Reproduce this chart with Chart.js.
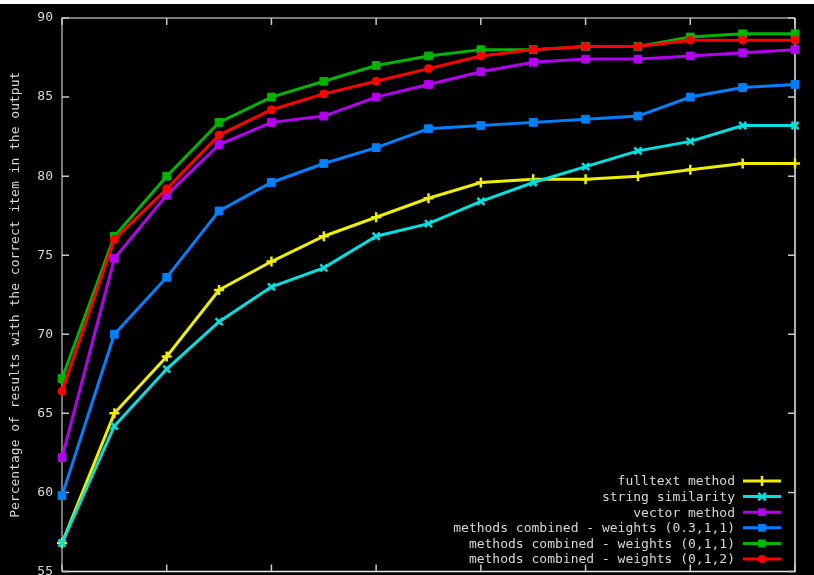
<!DOCTYPE html>
<html>
<head>
<meta charset="utf-8">
<script src="https://cdn.jsdelivr.net/npm/chart.js@4/dist/chart.umd.min.js"></script>
<style>
  html, body { margin: 0; padding: 0; background: #000; overflow: hidden; }
  /* a few px taller than the window: the bottom tick label gets cut like in the original */
  #wrap { width: 814px; height: 579px; }
</style>
</head>
<body>
<div id="wrap"><canvas id="myChart"></canvas></div>
<script>
// data
const categories = ['1', '2', '3', '4', '5', '6', '7', '8', '9', '10', '11', '12', '13', '14', '15'];
const yTicks = [55, 60, 65, 70, 75, 80, 85, 90];

const fulltext = [56.8, 65.0, 68.6, 72.8, 74.6, 76.2, 77.4, 78.6, 79.6, 79.8, 79.8, 80.0, 80.4, 80.8, 80.8];
const stringSim = [56.8, 64.2, 67.8, 70.8, 73.0, 74.2, 76.2, 77.0, 78.4, 79.6, 80.6, 81.6, 82.2, 83.2, 83.2];
const vectorMethod = [62.2, 74.8, 78.8, 82.0, 83.4, 83.8, 85.0, 85.8, 86.6, 87.2, 87.4, 87.4, 87.6, 87.8, 88.0];
const combined0311 = [59.8, 70.0, 73.6, 77.8, 79.6, 80.8, 81.8, 83.0, 83.2, 83.4, 83.6, 83.8, 85.0, 85.6, 85.8];
const combined011 = [67.2, 76.2, 80.0, 83.4, 85.0, 86.0, 87.0, 87.6, 88.0, 88.0, 88.2, 88.2, 88.8, 89.0, 89.0];
const combined012 = [66.4, 76.0, 79.2, 82.6, 84.2, 85.2, 86.0, 86.8, 87.6, 88.0, 88.2, 88.2, 88.6, 88.6, 88.6];

const seriesLabels = [
  'fulltext method',
  'string similarity',
  'vector method',
  'methods combined - weights (0.3,1,1)',
  'methods combined - weights (0,1,1)',
  'methods combined - weights (0,1,2)'
];

const FONT = 'DejaVu Sans Mono';
const textColor = '#d8d8d8';

function line(label, data, color, style, radius, order) {
  return {
    label: label,
    data: data,
    borderColor: color,
    backgroundColor: color,
    borderWidth: 3,
    pointStyle: style,
    pointRadius: radius,
    pointBorderWidth: style === 'cross' || style === 'crossRot' ? 2.5 : 1,
    pointHoverRadius: radius,
    tension: 0,
    clip: false,
    order: order
  };
}

// background + white band at the very top
const bgPlugin = {
  id: 'bg',
  beforeDraw(chart) {
    const ctx = chart.ctx;
    ctx.save();
    ctx.fillStyle = '#000';
    ctx.fillRect(0, 0, chart.width, chart.height);
    ctx.fillStyle = '#fff';
    ctx.fillRect(0, 0, chart.width, 4);
    ctx.restore();
  }
};

// gnuplot style frame with inward ticks
const framePlugin = {
  id: 'frame',
  beforeDatasetsDraw(chart) {
    const { ctx, chartArea: a, scales } = chart;
    ctx.save();
    ctx.lineWidth = 1.5;
    ctx.strokeStyle = '#a0a0a0';
    ctx.beginPath();
    ctx.moveTo(a.left, a.bottom); ctx.lineTo(a.left, a.top); ctx.lineTo(a.right, a.top);
    ctx.stroke();
    ctx.strokeStyle = '#e8e8e8';
    ctx.beginPath();
    ctx.moveTo(a.right, a.top); ctx.lineTo(a.right, a.bottom); ctx.lineTo(a.left, a.bottom);
    ctx.stroke();
    ctx.strokeStyle = '#c8c8c8';
    ctx.beginPath();
    yTicks.forEach(v => {
      const py = scales.y.getPixelForValue(v);
      ctx.moveTo(a.left, py); ctx.lineTo(a.left + 7, py);
      ctx.moveTo(a.right, py); ctx.lineTo(a.right - 7, py);
    });
    categories.forEach((c, i) => {
      if (i % 2) return;
      const px = scales.x.getPixelForValue(i);
      ctx.moveTo(px, a.top); ctx.lineTo(px, a.top + 7);
      ctx.moveTo(px, a.bottom); ctx.lineTo(px, a.bottom - 7);
    });
    ctx.stroke();
    ctx.restore();
  }
};

function drawMarker(ctx, style, x, y, r, color) {
  ctx.fillStyle = color;
  ctx.strokeStyle = color;
  ctx.beginPath();
  if (style === 'rect') {
    const s = r * Math.SQRT1_2;
    ctx.fillRect(x - s, y - s, 2 * s, 2 * s);
  } else if (style === 'circle') {
    ctx.arc(x, y, r, 0, Math.PI * 2);
    ctx.fill();
  } else if (style === 'cross') {
    ctx.lineWidth = 2.5;
    ctx.moveTo(x, y - r); ctx.lineTo(x, y + r);
    ctx.stroke();
  } else if (style === 'crossRot') {
    ctx.lineWidth = 2.5;
    const s = r * 0.75;
    ctx.moveTo(x - s, y - s); ctx.lineTo(x + s, y + s);
    ctx.moveTo(x - s, y + s); ctx.lineTo(x + s, y - s);
    ctx.stroke();
  }
}

// right-aligned key in the lower right corner
const keyPlugin = {
  id: 'key',
  afterDatasetsDraw(chart) {
    const ctx = chart.ctx;
    ctx.save();
    ctx.font = '13px "' + FONT + '"';
    ctx.textAlign = 'right';
    ctx.textBaseline = 'middle';
    seriesLabels.forEach((lab, i) => {
      const ds = chart.data.datasets[i];
      const y = 481 + i * 15.6;
      ctx.fillStyle = textColor;
      ctx.fillText(lab, 735, y + 1);
      ctx.strokeStyle = ds.borderColor;
      ctx.lineWidth = 3;
      ctx.beginPath();
      ctx.moveTo(743, y); ctx.lineTo(781, y);
      ctx.stroke();
      drawMarker(ctx, ds.pointStyle, 762, y, ds.pointRadius, ds.borderColor);
    });
    ctx.restore();
  }
};

const data = {
  labels: categories,
  datasets: [
    line(seriesLabels[0], fulltext, '#eeee00', 'cross', 5, 6),
    line(seriesLabels[1], stringSim, '#00e0e0', 'crossRot', 5, 5),
    line(seriesLabels[2], vectorMethod, '#b400f0', 'rect', 5.5, 4),
    line(seriesLabels[3], combined0311, '#0080ff', 'rect', 5.5, 3),
    line(seriesLabels[4], combined011, '#00b400', 'rect', 5.5, 2),
    line(seriesLabels[5], combined012, '#ff0000', 'circle', 4, 1)
  ]
};

const config = {
  type: 'line',
  data,
  options: {
    responsive: true,
    maintainAspectRatio: false,
    animation: false,
    layout: { padding: { top: 18, right: 19, bottom: 0, left: 0 } },
    plugins: {
      legend: { display: false },
      tooltip: { enabled: false }
    },
    scales: {
      x: {
        display: false,
        offset: false
      },
      y: {
        min: 55,
        max: 90,
        ticks: {
          stepSize: 5,
          color: textColor,
          padding: 9,
          font: { family: FONT, size: 13 }
        },
        grid: { display: false, drawTicks: false },
        border: { display: false },
        title: {
          display: true,
          text: 'Percentage of results with the correct item in the output',
          color: textColor,
          font: { family: FONT, size: 13 },
          padding: { top: 8, bottom: 0 }
        },
        afterFit(scale) {
          scale.width = 62;
          scale.paddingTop = 0;
          scale.paddingBottom = 0;
        }
      }
    }
  },
  plugins: [bgPlugin, framePlugin, keyPlugin]
};

const myChart = new Chart(document.getElementById('myChart'), config);
</script>
</body>
</html>
